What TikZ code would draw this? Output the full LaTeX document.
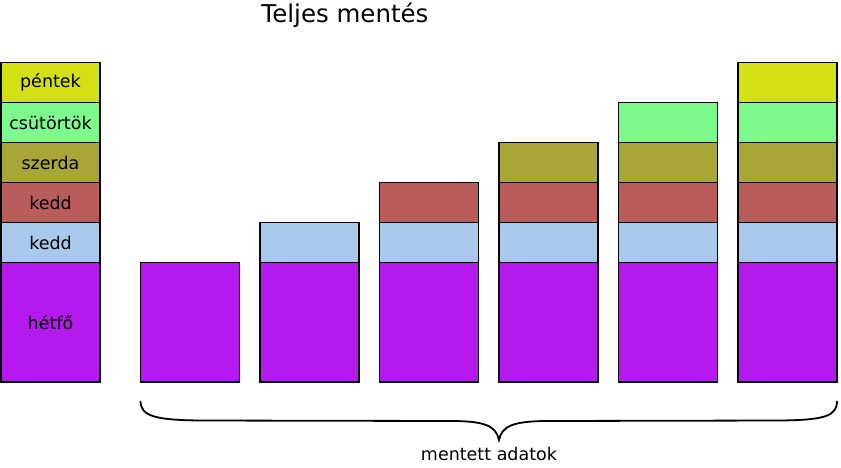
\documentclass[tikz,border=0pt]{standalone}
\usepackage{fontspec}
\setmainfont{DejaVu Sans}
\definecolor{cfri}{HTML}{D4E016}
\definecolor{cthu}{HTML}{7EF98E}
\definecolor{cwed}{HTML}{A7A637}
\definecolor{ctue}{HTML}{B85C5C}
\definecolor{ctuo}{HTML}{A8C9EC}
\definecolor{cmon}{HTML}{B41AEE}
\begin{document}
\begin{tikzpicture}[x=1pt,y=-1pt,
  box/.style={draw, line width=1.7pt, inner sep=0pt, outer sep=0pt, minimum width=99pt, minimum height=40pt, anchor=north west, font=\fontsize{17.5}{20}\selectfont},
  monbox/.style={box, minimum height=119.5pt, fill=cmon},
  lbl/.style={inner sep=0pt}]
\useasboundingbox (0,0) rectangle (841,467);
\fill[white] (0,0) rectangle (841,467);
% legend
\node[box, fill=cfri] (lfri) at (1,62.5) {péntek};
\node[box, fill=cthu] (lthu) at (1,102.5) {csütörtök};
\node[box, fill=cwed] (lwed) at (1,142.5) {szerda};
\node[box, fill=ctue] (ltue) at (1,182.5) {kedd};
\node[box, fill=ctuo] (ltuo) at (1,222.5) {kedd};
\node[monbox] (lmon) at (1,262.5) {hétfő};
% columns
\foreach \n/\x/\k in {1/140.5/1,2/260/2,3/379.5/3,4/499/4,5/618.5/5,6/738/6}{
  \node[monbox] (c\n mon) at (\x,262.5) {};
  \ifnum\k>1 \node[box, fill=ctuo] (c\n tuo) at (\x,222.5) {};\fi
  \ifnum\k>2 \node[box, fill=ctue] (c\n tue) at (\x,182.5) {};\fi
  \ifnum\k>3 \node[box, fill=cwed] (c\n wed) at (\x,142.5) {};\fi
  \ifnum\k>4 \node[box, fill=cthu] (c\n thu) at (\x,102.5) {};\fi
  \ifnum\k>5 \node[box, fill=cfri] (c\n fri) at (\x,62.5) {};\fi
}
% title
\node[lbl, font=\fontsize{24.5}{28}\selectfont] (title) at (345,15) {Teljes mentés};
% brace
\coordinate (bl) at (140.5,401);
\coordinate (bt) at (499,440);
\coordinate (br) at (837,401);
\draw[line width=1.8pt]
  (bl) .. controls (140.5,416) and (155,420) .. (200,420.5)
  -- (455,421) .. controls (485,421.5) and (496,426) .. (bt)
  .. controls (502,426) and (513,421.5) .. (545,421)
  -- (780,420.5) .. controls (825,420) and (837,416) .. (br);
\node[lbl, font=\fontsize{17.5}{20}\selectfont] (data) at (489,454) {mentett adatok};
\end{tikzpicture}
\end{document}
